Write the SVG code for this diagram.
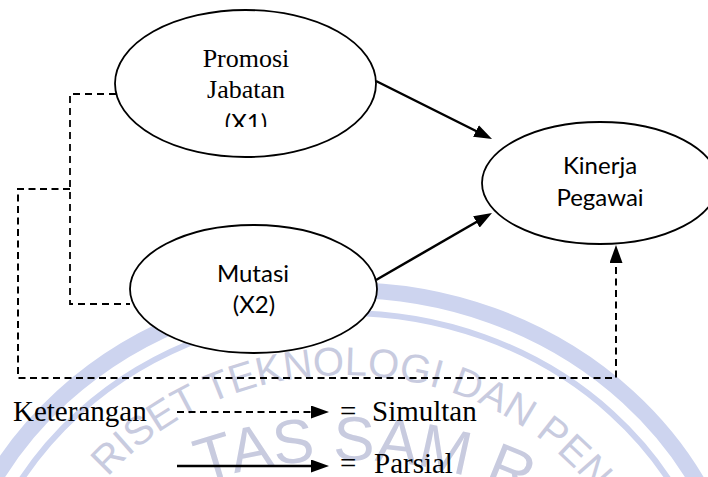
<svg xmlns="http://www.w3.org/2000/svg" width="708" height="477" viewBox="0 0 708 477">
<defs>
<style>
.node ellipse{fill:#fff;stroke:#000;stroke-width:1.8}
.serif{font-family:"Liberation Serif","Times New Roman",serif;font-size:26px;fill:#000}
.sans{font-family:Lato,"Liberation Sans",sans-serif;font-size:24px;fill:#000}
.legend{font-family:"Liberation Serif","Times New Roman",serif;font-size:29px;fill:#000}
.dash{fill:none;stroke:#000;stroke-width:2;stroke-dasharray:7 4.5}
.dashthin{fill:none;stroke:#000;stroke-width:1.8;stroke-dasharray:7 5}
.solid{fill:none;stroke:#000;stroke-width:2.5}
.wmtext{fill:#c8cbdf;font-family:"Liberation Sans",Arial,sans-serif}
.wmband{fill:none;stroke:#cdd4ef}
</style>
<marker id="ah" markerUnits="userSpaceOnUse" markerWidth="18" markerHeight="13" refX="9" refY="6.5" orient="auto" viewBox="0 0 18 13">
<path d="M0,0 L18,6.5 L0,13 z" fill="#000"/>
</marker>
<clipPath id="clipX1"><rect x="100" y="0" width="300" height="127"/></clipPath>
<path id="arcOuter" d="M38,655 A307,280 0 0 1 652,655"/>
<path id="arcInner" d="M45,655 A300,195 0 0 1 645,655"/>
</defs>

<g id="watermark">
<ellipse class="wmband" cx="345" cy="655" rx="400" ry="365" stroke-width="16"/>
<ellipse class="wmband" cx="345" cy="655" rx="377" ry="342" stroke-width="6"/>
<text class="wmtext" font-size="40"><textPath href="#arcOuter" startOffset="51%" text-anchor="middle">RISET TEKNOLOGI DAN PEN</textPath></text>
<text class="wmtext" font-size="62"><textPath href="#arcInner" startOffset="52.5%" text-anchor="middle">TAS SAM R</textPath></text>
</g>

<g id="connectors">
<path class="dashthin" d="M116,94 H70 V304 H130"/>
<path class="dash" d="M70,189 H18 V378 H616 V254" marker-end="url(#ah)"/>
<path class="solid" d="M376,81 L484,135" marker-end="url(#ah)"/>
<path class="solid" d="M376,280 L484.2,217.5" marker-end="url(#ah)"/>
</g>

<g id="node-x1" class="node">
<ellipse cx="245.5" cy="83.5" rx="130.5" ry="73.5"/>
<text class="serif" x="246" y="67" text-anchor="middle">Promosi</text>
<text class="serif" x="246" y="98" text-anchor="middle">Jabatan</text>
<text class="sans" x="246" y="131" text-anchor="middle" clip-path="url(#clipX1)">(X1)</text>
</g>

<g id="node-x2" class="node">
<ellipse cx="253.5" cy="289" rx="123.5" ry="64"/>
<text class="sans" x="253" y="282" text-anchor="middle">Mutasi</text>
<text class="sans" x="254" y="313" text-anchor="middle">(X2)</text>
</g>

<g id="node-y" class="node">
<ellipse cx="600" cy="183" rx="118" ry="61"/>
<text class="sans" x="600" y="174" text-anchor="middle">Kinerja</text>
<text class="sans" x="600" y="206" text-anchor="middle">Pegawai</text>
</g>

<g id="legend">
<text class="legend" x="13" y="421">Keterangan</text>
<path class="dash" d="M177,412 H320" marker-end="url(#ah)"/>
<text class="legend" x="340" y="421">=</text>
<text class="legend" x="372" y="421">Simultan</text>
<path class="solid" d="M177,466 H320" marker-end="url(#ah)"/>
<text class="legend" x="340" y="473">=</text>
<text class="legend" x="374" y="473">Parsial</text>
</g>
</svg>
